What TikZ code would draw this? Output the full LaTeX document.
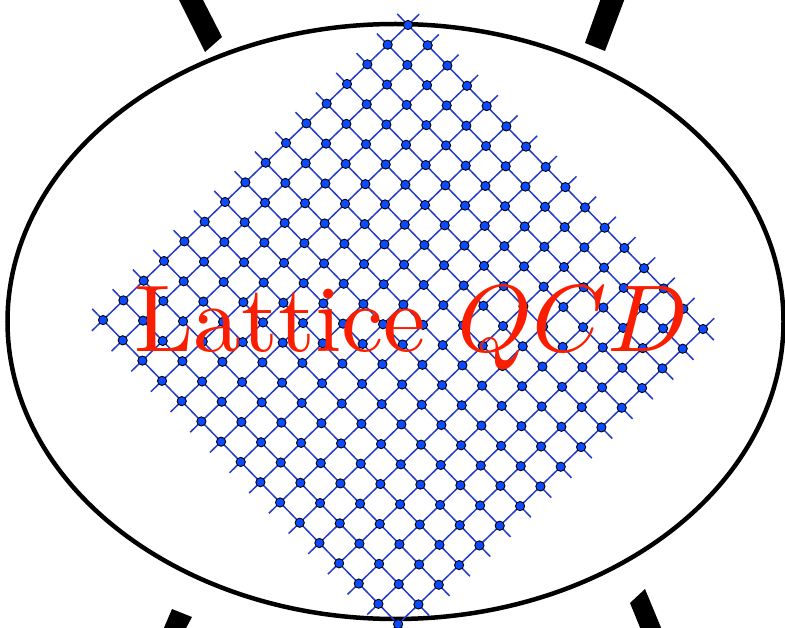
\documentclass[tikz,border=0pt]{standalone}
\usetikzlibrary{calc}
\definecolor{latline}{RGB}{35,60,200}
\definecolor{latsite}{RGB}{10,75,255}
\definecolor{qcdred}{RGB}{250,30,0}
\tikzset{
  latlink/.style={draw=latline, line width=1.5pt},
  site/.style={circle, fill=latsite, draw=black, line width=0.9pt, inner sep=0pt, minimum size=9.2pt},
  rim/.style={draw=black, line width=4.5pt},
  leg/.style={fill=black},
}
\begin{document}
\begin{tikzpicture}[x=1pt,y=-1pt]
\useasboundingbox (0,0) rectangle (785,628);
% ellipse
\draw[rim] (395.5,321.5) ellipse [x radius=388, y radius=297.5];
% external legs
\fill[leg] (178,-2) -- (202,-2) -- (222,37) -- (205,52) -- cycle;
\fill[leg] (601,-2) -- (625,-2) -- (605,51) -- (585,43) -- cycle;
\fill[leg] (172,609) -- (192,617) -- (185,630) -- (163,630) -- cycle;
\fill[leg] (645,589) -- (662,630) -- (641,630) -- (630,603) -- cycle;
% lattice
\foreach \i in {0,...,15}{
  \coordinate (ua\i) at ({408+19.67*\i+20.33*0.55},{25+20.27*\i-19.67*0.55});
  \coordinate (ub\i) at ({408+19.67*\i-20.33*15.55},{25+20.27*\i+19.67*15.55});
  \coordinate (va\i) at ({408-19.67*0.55-20.33*\i},{25-20.27*0.55+19.67*\i});
  \coordinate (vb\i) at ({408+19.67*15.55-20.33*\i},{25+20.27*15.55+19.67*\i});
  \draw[latlink] (ua\i) -- (ub\i);
  \draw[latlink] (va\i) -- (vb\i);
}
\foreach \i in {0,...,15}{
  \foreach \j in {0,...,15}{
    \node[site] (n-\i-\j) at ({408+19.67*\i-20.33*\j},{25+20.27*\i+19.67*\j}) {};
  }
}
% label
\node[text=qcdred, anchor=base, inner sep=0pt, scale=9.5] (lbl) at (411.5,352) {Lattice $QCD$};
\end{tikzpicture}
\end{document}
